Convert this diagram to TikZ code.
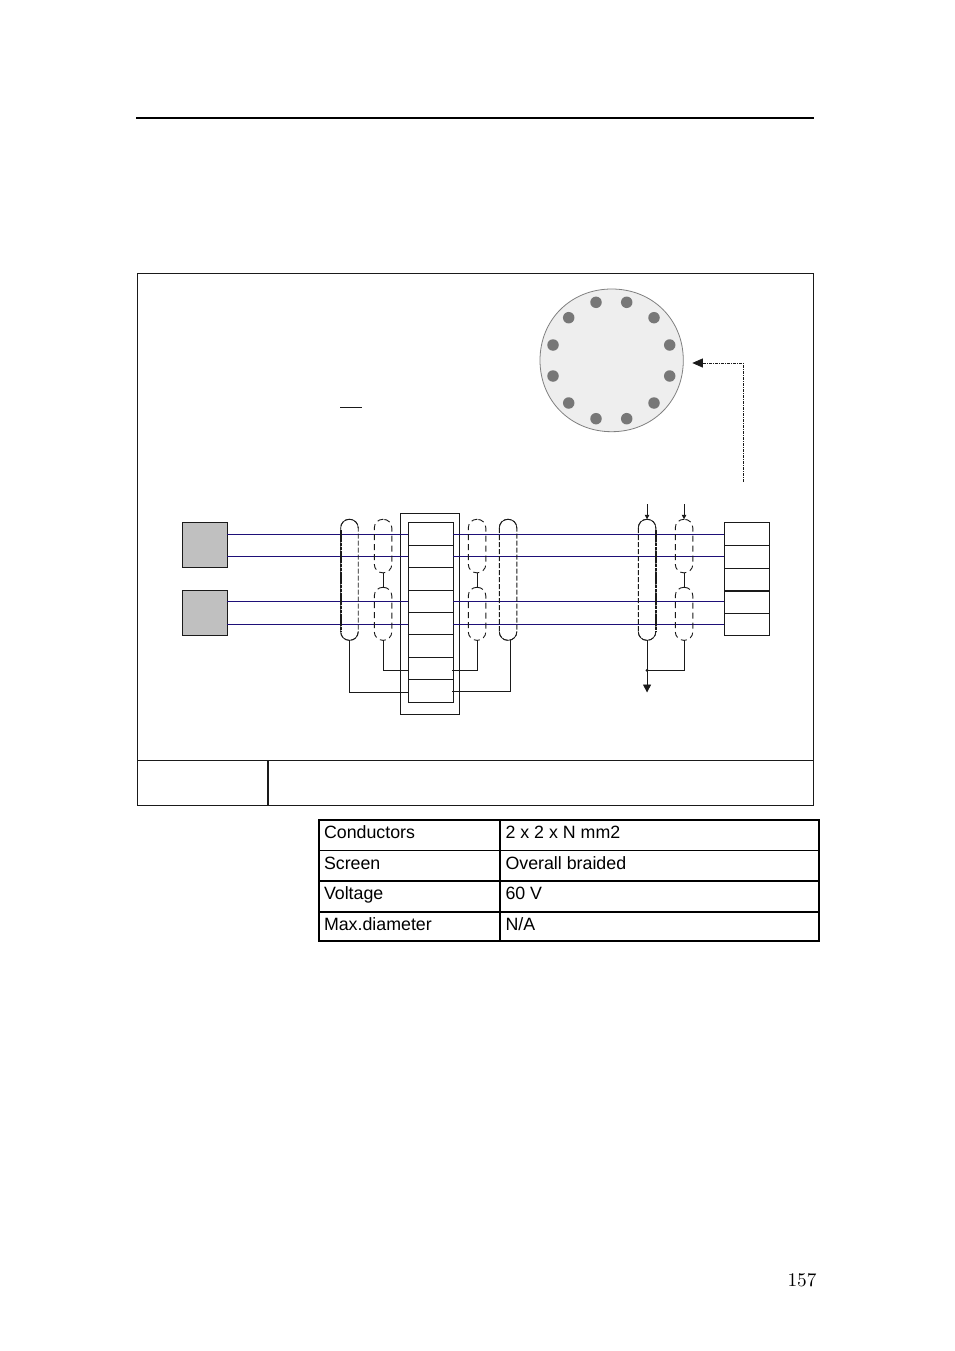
\documentclass[tikz,border=0pt]{standalone}
\usepackage{fontspec}
\setmainfont{Liberation Sans}
\newfontfamily\pagefont[OpticalSize=10]{Latin Modern Roman}
\usetikzlibrary{arrows.meta}
\definecolor{wirec}{HTML}{1E0F78}
\definecolor{graybox}{HTML}{C0C0C0}
\definecolor{discfill}{HTML}{EEEEEE}
\definecolor{pinfill}{HTML}{777777}
\definecolor{inkc}{HTML}{1A1A1A}
\tikzset{
  base/.style={inner sep=0pt,outer sep=0pt,anchor=north west},
  frameline/.style={draw=inkc,line width=0.9pt},
  graybx/.style={base,draw=inkc,fill=graybox,line width=1pt,minimum width=45pt,minimum height=45pt},
  termcell/.style={base,draw=inkc,line width=0.8pt,minimum width=45pt},
  wire/.style={draw=wirec,line width=1.2pt},
  lead/.style={draw=inkc,line width=0.9pt},
  capsule/.style={base,draw=inkc,line width=0.9pt,dash pattern=on 6pt off 4pt,rounded corners=8.5pt,minimum width=17.5pt},
  bigcapsule/.style={capsule,dash pattern=on 5pt off 2pt,minimum height=121pt},
  thickside/.style={draw=inkc,line width=2.2pt,dash pattern=on 3.5pt off 0.7pt},
  pin/.style={circle,inner sep=0pt,outer sep=0pt,minimum size=11.5pt,fill=pinfill},
  tiny/.style={-{Triangle[length=4.5pt,width=4.5pt]},lead,line width=0.8pt},
  capend/.style={draw=inkc,line width=0.75pt,rounded corners=8.5pt},
  celltxt/.style={inner sep=0pt,outer sep=0pt,anchor=base west,font=\fontsize{17.8}{20}\selectfont},
}
\begin{document}
\begin{tikzpicture}[x=1pt,y=-1pt]
\useasboundingbox (0,0) rectangle (954,1351);
\fill[white] (0,0) rectangle (954,1351);
% top rule
\coordinate (ruleL) at (136,118); \coordinate (ruleR) at (814,118);
\draw[line width=2pt,black] (ruleL) -- (ruleR);
% frame
\draw[frameline] (137.5,273.5) rectangle (813.5,805.5);
\coordinate (sepL) at (137.5,760.5); \coordinate (sepR) at (813.5,760.5);
\draw[frameline] (sepL) -- (sepR);
\coordinate (vT) at (268,760.5); \coordinate (vB) at (268,805.5);
\draw[line width=1.6pt,inkc] (vT) -- (vB);
% overline mark
\coordinate (ovL) at (340,407.5); \coordinate (ovR) at (362,407.5);
\draw[line width=0.9pt,inkc] (ovL) -- (ovR);
% cable disc
\draw[draw=gray,fill=discfill,line width=0.8pt] (540,360.3)
  .. controls (540,319.5) and (571,289) .. (611.7,289)
  .. controls (652.5,289) and (683.3,319.5) .. (683.3,360.3)
  .. controls (683.3,401) and (652.5,431.7) .. (611.7,431.7)
  .. controls (571,431.7) and (540,401) .. (540,360.3) -- cycle;
\foreach \n/\px/\py in {a/596/302.3,b/626.7/302.3,c/568.7/317.7,d/654/317.7,e/553/345,f/669.7/345,
  g/553/376,h/669.7/376,i/568.7/403,j/654/403,k/596/418.7,l/626.7/418.7}
  \node[pin] (pin\n) at (\px,\py) {};
% dash-dot pointer
\coordinate (ptrA) at (743.5,481.7); \coordinate (ptrB) at (743.5,363); \coordinate (ptrC) at (692.3,363);
\draw[inkc,line width=0.8pt,dash pattern=on 3pt off 1pt on 1pt off 1pt,-{Triangle[length=10.5pt,width=9pt]}] (ptrA) -- (ptrB) -- (ptrC);
% gray boxes
\node[graybx] (g1) at (182.3,522.3) {};
\node[graybx] (g2) at (182.3,590.3) {};
% connector outer
\node[base,draw=inkc,line width=0.9pt,minimum width=59pt,minimum height=201pt] (conn) at (400.3,513.3) {};
% terminals mid
\foreach \n/\ty/\h in {1/522.3/22.7,2/545/22.3,3/567.3/23,4/590.3/22,5/612.3/22,6/634.3/23,7/657.3/22,8/679.3/23}
  \node[termcell,minimum height=\h pt] (m\n) at (408.3,\ty) {};
% terminals right
\foreach \n/\ty/\h in {1/522.3/23,2/545.3/23,3/568.3/22.4,4/590.7/22.6,5/613.3/22}
  \node[termcell,minimum height=\h pt] (r\n) at (724.3,\ty) {};
\coordinate (rthickL) at (724.3,590.9); \coordinate (rthickR) at (769.3,590.9);
\draw[inkc,line width=1.6pt] (rthickL) -- (rthickR);
% wires
\foreach \n/\wy in {1/534.3,2/556.3,3/601.3,4/624.3}{
  \coordinate (wl\n) at (227.3,\wy);
  \coordinate (wml\n) at (408.3,\wy);
  \coordinate (wmr\n) at (453.3,\wy);
  \coordinate (wr\n) at (724.3,\wy);
  \draw[wire] (wl\n) -- (wml\n);
  \draw[wire] (wmr\n) -- (wr\n);
}
% capsules
\node[bigcapsule] (c1) at (340.7,519.3) {};
\node[capsule,minimum height=53.5pt] (c2a) at (374.3,519.3) {};
\node[capsule,minimum height=53pt] (c2b) at (374.3,587.3) {};
\node[capsule,minimum height=53.5pt] (c3a) at (468.3,519.3) {};
\node[capsule,minimum height=53pt] (c3b) at (468.3,587.3) {};
\node[bigcapsule] (c4) at (499.3,519.3) {};
\node[bigcapsule] (c5) at (638.3,519.3) {};
\node[capsule,minimum height=53.5pt] (c6a) at (675.3,519.3) {};
\node[capsule,minimum height=53pt] (c6b) at (675.3,587.3) {};
% solid ends of the big capsules
\foreach \c in {c1,c4,c5}{
  \draw[capend] ([yshift=-9pt]\c.north west) -- (\c.north west) -- (\c.north east) -- ([yshift=-9pt]\c.north east);
  \draw[capend] ([yshift=9pt]\c.south west) -- (\c.south west) -- (\c.south east) -- ([yshift=9pt]\c.south east);
}
% thick sides
\draw[thickside] (c1.west|-0,530) -- (c1.west|-0,632);
\draw[thickside] (c5.east|-0,530) -- (c5.east|-0,632);
% links
\draw[lead] (c2a.south) -- (c2b.north);
\draw[lead] (c3a.south) -- (c3b.north);
\draw[lead] (c6a.south) -- (c6b.north);
\coordinate (ml7) at (408,670.3); \coordinate (ml8) at (408,692.3);
\coordinate (mr7) at (452,670.3); \coordinate (mr8) at (452,691.3);
\draw[lead] (c1.south) |- (ml8);
\draw[lead] (c2b.south) |- (ml7);
\draw[lead] (c3b.south) |- (mr7);
\coordinate (c4lead) at (510.7,640.3);
\draw[lead] (c4lead) |- (mr8);
% right side ground
\coordinate (gnd) at (c5.south|-0,670.3);
\coordinate (gndtip) at (c5.south|-0,692.5);
\coordinate (a5) at (c5.north|-0,504);
\coordinate (a6) at (c6a.north|-0,504);
\draw[lead,-{Triangle[length=8pt,width=8pt]}] (c5.south) -- (gndtip);
\draw[lead] (c6b.south) |- (gnd);
\fill[inkc] (gnd) circle (1.6pt);
\draw[tiny] (a5) -- (c5.north);
\draw[tiny] (a6) -- (c6a.north);
% table
\foreach \n/\ty/\h/\lab/\val in {1/820/30.5/Conductors/{2 x 2 x N mm2},2/850.5/30.5/Screen/{Overall braided},3/881/31/Voltage/{60 V},4/912/29/Max.diameter/{N/A}}{
  \node[base,draw=black,line width=1.6pt,minimum width=181pt,minimum height=\h pt] (tl\n) at (319,\ty) {};
  \node[base,draw=black,line width=1.6pt,minimum width=319pt,minimum height=\h pt] (tr\n) at (500,\ty) {};
  \node[celltxt] (tlt\n) at (324,\ty+18.6) {\lab};
  \node[celltxt] (trt\n) at (505.5,\ty+18.6) {\val};
}
% page number
\node[base,anchor=base east,font=\pagefont\fontsize{19.3}{20}\selectfont] (pg) at (816.5,1286) {157};
\end{tikzpicture}
\end{document}
